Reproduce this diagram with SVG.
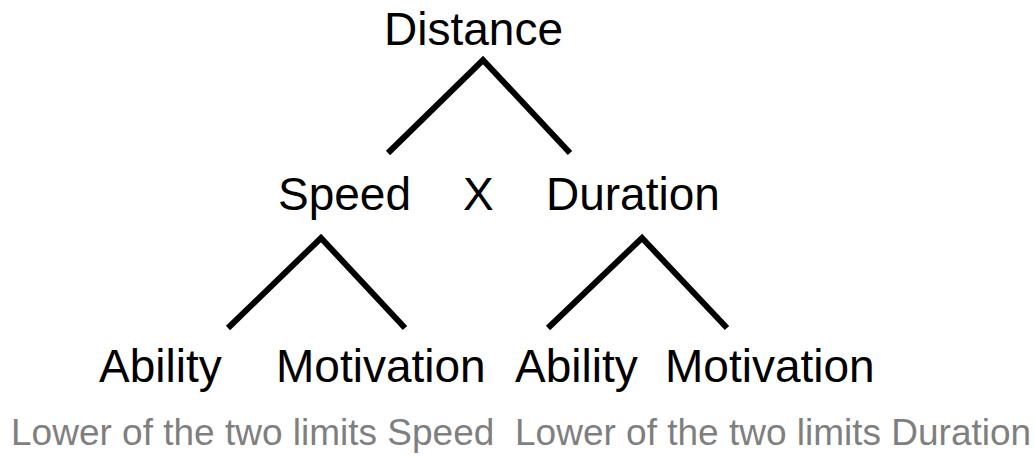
<svg xmlns="http://www.w3.org/2000/svg" width="1034" height="457" viewBox="0 0 1034 457">
  <style>
    .lbl { font-family: "Liberation Sans", Arial, sans-serif; font-size: 46px; fill: #000; }
    .note { font-family: "Liberation Sans", Arial, sans-serif; font-size: 37px; fill: #7f7f7f; }
    .branch { fill: none; stroke: #000; stroke-width: 6; stroke-linecap: butt; stroke-linejoin: miter; }
  </style>
  <rect width="1034" height="457" fill="#fff"/>

  <g id="connectors">
    <polyline class="branch" points="388,153 483,60 570,153"/>
    <polyline class="branch" points="228,328 321,238 405,328"/>
    <polyline class="branch" points="548,328 642,238 727,328"/>
  </g>

  <g id="distance"><text class="lbl" x="384" y="45">Distance</text></g>
  <g id="speed"><text class="lbl" x="278" y="210">Speed</text></g>
  <g id="times"><text class="lbl" x="463" y="210">X</text></g>
  <g id="duration"><text class="lbl" x="546" y="210">Duration</text></g>
  <g id="speed-ability"><text class="lbl" x="99" y="382">Ability</text></g>
  <g id="speed-motivation"><text class="lbl" x="276" y="382">Motivation</text></g>
  <g id="duration-ability"><text class="lbl" x="515" y="382">Ability</text></g>
  <g id="duration-motivation"><text class="lbl" x="665" y="382">Motivation</text></g>
  <g id="speed-note"><text class="note" x="11" y="445">Lower of the two limits Speed</text></g>
  <g id="duration-note"><text class="note" x="515" y="445">Lower of the two limits Duration</text></g>
</svg>
